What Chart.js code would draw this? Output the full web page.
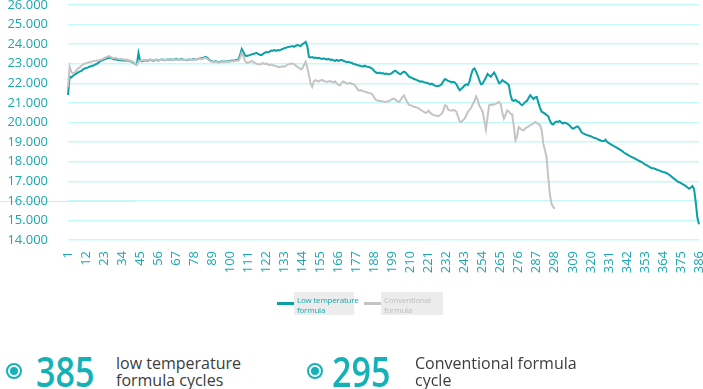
<!DOCTYPE html>
<html>
<head>
<meta charset="utf-8">
<script src="https://cdn.jsdelivr.net/npm/chart.js@4"></script>
<style>
  body { margin: 0; width: 703px; height: 389px; background: #fff; position: relative; overflow: hidden; font-family: "Open Sans", sans-serif; }
  #wrap { position: absolute; left: 0; top: 0; width: 703px; height: 300px; }
  .artifact { position: absolute; left: 0; top: 201px; width: 135px; height: 1px; background: #e2e2e2; }
  .leg-line { position: absolute; height: 3px; }
  .leg-box { position: absolute; background: #ececec; font-size: 8px; line-height: 9.5px; padding: 3px 0 0 3px; box-sizing: border-box; white-space: nowrap; letter-spacing: -0.2px; }
  .ring { position: absolute; width: 16px; height: 16px; border-radius: 50%; border: 2px solid #14b2b6; box-sizing: border-box; }
  .ring::after { content: ""; position: absolute; left: 2px; top: 2px; width: 8px; height: 8px; border-radius: 50%; background: #14b2b6; }
  .big { position: absolute; font-size: 41px; font-weight: 600; color: #14b2b6; line-height: 41px; transform: scaleX(0.83); transform-origin: left top; }
  .desc { position: absolute; font-size: 16px; line-height: 17px; color: #3c3c3c; }
</style>
</head>
<body>
<div class="artifact"></div>
<div id="wrap"><canvas id="chart" width="703" height="300"></canvas></div>

<div class="leg-line" style="left:277px;top:302px;width:17px;background:#0aa0a6"></div>
<div class="leg-box" style="left:294px;top:292px;width:60px;height:23px;color:#18a8ae">Low temperature<br>formula</div>
<div class="leg-line" style="left:364px;top:302px;width:17px;background:#c4c4c4"></div>
<div class="leg-box" style="left:381px;top:292px;width:62px;height:23px;color:#bdbdbd">Conventional<br>formula</div>

<div class="ring" style="left:6px;top:363px"></div>
<div class="big" style="left:36px;top:351px">385</div>
<div class="desc" style="left:116px;top:355px">low temperature<br>formula cycles</div>
<div class="ring" style="left:307px;top:363px"></div>
<div class="big" style="left:332px;top:351px">295</div>
<div class="desc" style="left:415px;top:355px">Conventional formula<br>cycle</div>

<script>
// capacity per cycle (thousands)
const lowTemp = [
  21.40,22.35,22.30,22.38,22.45,22.50,22.55,22.60,22.62,22.70,
  22.75,22.78,22.80,22.85,22.87,22.90,22.93,22.98,23.02,23.08,
  23.15,23.18,23.22,23.25,23.28,23.32,23.30,23.26,23.22,23.24,
  23.20,23.18,23.20,23.17,23.18,23.15,23.18,23.15,23.12,23.10,
  23.05,22.98,22.96,23.55,23.15,23.12,23.15,23.18,23.15,23.17,
  23.20,23.18,23.16,23.18,23.20,23.17,23.19,23.22,23.20,23.18,
  23.20,23.22,23.20,23.23,23.20,23.22,23.25,23.22,23.20,23.24,
  23.22,23.20,23.18,23.20,23.22,23.20,23.22,23.25,23.22,23.24,
  23.26,23.28,23.30,23.32,23.35,23.30,23.22,23.15,23.12,23.10,
  23.12,23.10,23.08,23.10,23.12,23.10,23.12,23.14,23.12,23.15,
  23.16,23.15,23.18,23.20,23.20,23.45,23.75,23.60,23.42,23.40,
  23.42,23.44,23.48,23.50,23.52,23.56,23.50,23.46,23.44,23.50,
  23.55,23.60,23.58,23.62,23.68,23.67,23.70,23.66,23.70,23.68,
  23.72,23.75,23.80,23.82,23.85,23.87,23.88,23.90,23.86,23.92,
  23.95,23.93,23.90,24.00,24.05,24.12,23.90,23.35,23.32,23.34,
  23.30,23.32,23.28,23.30,23.27,23.25,23.28,23.24,23.22,23.25,
  23.20,23.22,23.18,23.15,23.20,23.15,23.18,23.20,23.15,23.12,
  23.08,23.10,23.06,23.05,23.00,22.98,22.95,22.92,22.90,22.88,
  22.85,22.90,22.86,22.84,22.82,22.78,22.72,22.62,22.55,22.52,
  22.55,22.50,22.52,22.48,22.50,22.47,22.46,22.50,22.55,22.62,
  22.64,22.55,22.50,22.47,22.55,22.60,22.55,22.45,22.35,22.30,
  22.28,22.22,22.20,22.16,22.12,22.08,22.10,22.06,22.04,22.02,
  22.00,21.95,21.98,21.92,21.88,21.85,21.86,21.90,21.95,22.10,
  22.22,22.18,22.12,22.10,22.05,22.08,22.04,21.95,21.78,21.65,
  21.72,21.80,21.90,21.95,21.92,22.10,22.45,22.70,22.76,22.60,
  22.40,22.15,21.95,21.98,22.15,22.30,22.48,22.40,22.33,22.45,
  22.55,22.40,22.20,22.00,22.05,22.16,22.10,22.05,21.99,21.90,
  21.40,21.14,21.10,21.15,21.08,21.05,20.95,20.88,20.95,21.05,
  21.10,21.25,21.39,21.30,21.20,21.28,21.30,21.00,20.75,20.55,
  20.50,20.45,20.38,20.32,20.10,19.94,19.90,20.00,20.05,20.03,
  20.08,20.00,19.95,20.00,19.97,19.92,19.85,19.75,19.69,19.72,
  19.78,19.80,19.70,19.55,19.45,19.42,19.38,19.35,19.32,19.30,
  19.25,19.22,19.20,19.15,19.12,19.08,19.05,19.05,19.12,19.00,
  18.95,18.90,18.85,18.80,18.75,18.70,18.65,18.60,18.55,18.48,
  18.42,18.38,18.32,18.28,18.23,18.20,18.15,18.10,18.06,18.02,
  17.98,17.92,17.86,17.82,17.77,17.72,17.68,17.66,17.64,17.60,
  17.57,17.54,17.50,17.48,17.46,17.42,17.38,17.32,17.25,17.18,
  17.12,17.05,16.98,16.95,16.90,16.85,16.80,16.75,16.68,16.62,
  16.68,16.75,16.60,15.95,15.15,14.80
];

const conventional = [
  21.80,22.85,22.60,22.50,22.55,22.65,22.75,22.80,22.88,22.95,
  23.00,23.03,23.05,23.08,23.10,23.12,23.14,23.15,23.17,23.18,
  23.20,23.24,23.28,23.32,23.36,23.39,23.35,23.30,23.28,23.30,
  23.26,23.24,23.25,23.22,23.23,23.20,23.22,23.18,23.15,23.12,
  23.08,23.00,22.93,23.10,23.15,23.15,23.18,23.20,23.18,23.20,
  23.22,23.20,23.18,23.20,23.22,23.20,23.18,23.20,23.22,23.20,
  23.18,23.20,23.22,23.20,23.18,23.20,23.22,23.20,23.18,23.20,
  23.22,23.18,23.20,23.22,23.20,23.18,23.20,23.22,23.25,23.22,
  23.24,23.26,23.25,23.28,23.30,23.25,23.18,23.12,23.10,23.08,
  23.10,23.08,23.06,23.08,23.10,23.08,23.10,23.12,23.10,23.12,
  23.14,23.12,23.15,23.15,23.15,23.30,23.55,23.40,23.15,23.05,
  23.05,23.10,23.15,23.10,23.05,23.00,22.98,22.95,23.00,23.03,
  22.98,23.02,22.95,22.93,22.96,22.92,22.90,22.88,22.85,22.82,
  22.84,22.88,22.84,22.90,22.96,22.98,23.01,23.00,22.98,22.90,
  22.84,22.78,22.72,22.76,22.95,23.10,22.80,22.42,21.99,21.82,
  22.10,22.16,22.12,22.10,22.15,22.18,22.12,22.10,22.07,22.10,
  22.12,22.08,22.05,22.10,22.00,21.92,21.90,22.05,22.10,22.05,
  22.00,21.98,22.02,21.98,21.96,21.90,21.78,21.65,21.62,21.65,
  21.60,21.58,21.55,21.52,21.50,21.48,21.40,21.25,21.14,21.12,
  21.10,21.10,21.08,21.06,21.05,21.08,21.10,21.15,21.20,21.22,
  21.15,21.08,21.05,21.15,21.30,21.38,21.20,21.05,20.90,20.88,
  20.85,20.80,20.78,20.76,20.72,20.65,20.60,20.55,20.49,20.52,
  20.60,20.50,20.42,20.38,20.36,20.34,20.32,20.38,20.45,20.60,
  20.88,20.85,20.65,20.62,20.60,20.64,20.62,20.55,20.30,20.05,
  20.02,20.12,20.20,20.37,20.55,20.65,20.75,20.95,21.10,21.33,
  21.15,20.85,20.71,20.54,20.10,19.64,20.30,20.88,20.92,20.90,
  20.93,20.95,21.00,21.05,20.95,20.50,20.20,20.40,20.62,20.55,
  20.45,20.42,19.80,19.09,19.30,19.77,19.70,19.62,19.60,19.70,
  19.75,19.80,19.86,19.90,19.95,20.03,19.98,19.92,19.86,19.60,
  18.92,18.60,18.23,17.20,16.36,15.85,15.70,15.59
];

// cycle numbers on the x axis and the ones that get a label
const cycles = lowTemp.map((_, i) => String(i + 1));
const tickLabels = ["1","12","23","34","45","56","67","78","89","100","111","122","133","144","155","166","177","188",
  "199","210","221","232","243","254","265","276","287","298","309","320","331","342","353","364","375","386"];
const yTicks = [14, 15, 16, 17, 18, 19, 20, 21, 22, 23, 24, 25, 26];

const TEAL = "#0aa0a6";
const GREY = "#c4c4c4";
const AXIS = "#1aa8ae";

new Chart(document.getElementById("chart"), {
  type: "line",
  data: {
    labels: cycles,
    datasets: [
      { label: "Low temperature formula", data: lowTemp, borderColor: TEAL, borderWidth: 2, pointRadius: 0, tension: 0, order: 1 },
      { label: "Conventional formula", data: conventional, borderColor: GREY, borderWidth: 2, pointRadius: 0, tension: 0, order: 0 }
    ]
  },
  options: {
    responsive: false,
    animation: false,
    devicePixelRatio: 1,
    layout: { padding: { left: 0, right: 4, top: 0, bottom: 0 } },
    plugins: { legend: { display: false }, tooltip: { enabled: false } },
    scales: {
      x: {
        afterFit: s => { s.height = 60; s.paddingLeft = 0; s.paddingRight = 0; },
        grid: { display: false },
        border: { display: false },
        ticks: {
          autoSkip: false,
          minRotation: 90,
          maxRotation: 90,
          padding: 3,
          color: AXIS,
          font: { family: "Open Sans", size: 13 },
          callback: (v, i) => tickLabels.includes(cycles[i]) ? cycles[i] : null
        }
      },
      y: {
        min: yTicks[0],
        max: yTicks[yTicks.length - 1],
        afterFit: s => { s.width = 68; s.paddingTop = 5; s.paddingBottom = 0; },
        afterBuildTicks: s => { s.ticks = yTicks.map(v => ({ value: v })); },
        grid: { color: "#c6f8f8", lineWidth: 1.5, drawTicks: false },
        border: { display: false },
        ticks: {
          autoSkip: false,
          padding: 20,
          color: AXIS,
          font: { family: "Open Sans", size: 13 },
          callback: v => v.toFixed(3)
        }
      }
    }
  }
});
</script>
</body>
</html>
